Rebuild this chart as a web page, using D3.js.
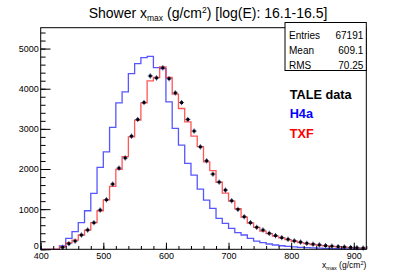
<!DOCTYPE html>
<html>
<head>
<meta charset="utf-8">
<script src="https://cdn.jsdelivr.net/npm/d3@7"></script>
<style>
body{margin:0;background:#fff;}
svg{font-family:"Liberation Sans",Arial,Helvetica,sans-serif;}
</style>
</head>
<body>
<div class="chart_xmax"></div>
<script>
// bin lower edges (g/cm2), 10 g/cm2 wide
var binLo = [400,410,420,430,440,450,460,470,480,490,
             500,510,520,530,540,550,560,570,580,590,
             600,610,620,630,640,650,660,670,680,690,
             700,710,720,730,740,750,760,770,780,790,
             800,810,820,830,840,850,860,870,880,890,
             900,910];
var binHi = 920;

var h4a = [0,0,0,82,273,438,662,960,1393,2040,
           2428,3035,3647,3920,4378,4627,4776,4808,4527,4502,
           3672,3010,2594,2139,1848,1500,1226,1020,771,647,
           522,413,356,274,206,164,132,107,88,72,
           60,50,42,34,28,23,19,15,12,10,
           8,6];

var txf = [0,0,0,60,160,231,356,480,662,960,
           1230,1565,1990,2310,2801,3216,3647,4194,4279,4543,
           4279,3863,3507,3174,2820,2560,2180,1960,1670,1400,
           1200,1010,800,655,545,455,390,330,285,240,
           200,165,140,120,100,85,72,62,52,44,
           36,30];

var tale = [0,0,0,50,140,205,356,480,662,978,
            1234,1624,2022,2275,2818,3234,3657,4318,4269,4520,
            4250,3896,3655,3234,2945,2552,2204,1873,1674,1475,
            1209,995,811,662,547,480,398,340,290,250,
            210,180,150,128,110,92,78,66,56,47,
            39,31];

var xTicks = [400,500,600,700,800,900];
var yTicks = [0,1000,2000,3000,4000,5000];
var statRows = [["Entries","67191"],["Mean","609.1"],["RMS","70.25"]];
var legendRows = [["TALE data","#000000"],["H4a","#0000ff"],["TXF","#ff0000"]];

function drawChart(_cls){
  var cls = _cls || '.chart_xmax';
  var W = 407, H = 277;
  var margin = {top:27.7, right:40.7, bottom:27.7, left:40.7}
    , width = W - margin.left - margin.right
    , height = H - margin.top - margin.bottom;

  d3.select(cls).selectAll("*").remove();

  var xScale = d3.scaleLinear().domain([400, binHi]).range([0, width]);
  var yScale = d3.scaleLinear().domain([0, 5520]).range([height, 0]);

  var root = d3.select(cls).append("svg")
    .attr("width", W)
    .attr("height", H);

  // title
  var title = root.append("text")
    .attr("x", 208)
    .attr("y", 18)
    .attr("text-anchor", "middle")
    .attr("font-size", 14)
    .attr("fill", "#000");
  title.append("tspan").text("Shower x");
  title.append("tspan").attr("font-size", 8.5).attr("dy", 3).text("max");
  title.append("tspan").attr("dy", -3).text(" (g/cm");
  title.append("tspan").attr("font-size", 8.5).attr("dy", -5).text("2");
  title.append("tspan").attr("dy", 5).text(") [log(E): 16.1-16.5]");

  var svg = root.append("g")
    .attr("transform", "translate(" + margin.left + "," + margin.top + ")");

  // histogram outlines
  function steps(vals){
    var pts = binLo.map(function(d, i){ return [d, vals[i]]; });
    pts.push([binHi, vals[vals.length - 1]]);
    return pts;
  }
  var line = d3.line()
    .x(function(d){ return xScale(d[0]); })
    .y(function(d){ return yScale(d[1]); })
    .curve(d3.curveStepAfter);

  svg.append("path")
    .datum(steps(h4a))
    .attr("fill", "none")
    .attr("stroke", "#3838ff")
    .attr("stroke-opacity", 0.85)
    .attr("stroke-width", 1.3)
    .attr("d", line);

  svg.append("path")
    .datum(steps(txf))
    .attr("fill", "none")
    .attr("stroke", "#ff3838")
    .attr("stroke-opacity", 0.85)
    .attr("stroke-width", 1.3)
    .attr("d", line);

  // data points with errors
  var pts = binLo.map(function(d, i){ return {lo:d, y:tale[i]}; })
    .filter(function(d){ return d.y > 0; });

  var g = svg.selectAll(".pt")
    .data(pts)
    .enter().append("g")
    .attr("class", "pt");

  g.append("line")
    .attr("x1", function(d){ return xScale(d.lo) + 0.6; })
    .attr("x2", function(d){ return xScale(d.lo + 10) - 0.6; })
    .attr("y1", function(d){ return yScale(d.y); })
    .attr("y2", function(d){ return yScale(d.y); })
    .attr("stroke", "#34408a")
    .attr("stroke-width", 1);

  g.append("line")
    .attr("x1", function(d){ return xScale(d.lo + 5); })
    .attr("x2", function(d){ return xScale(d.lo + 5); })
    .attr("y1", function(d){ return yScale(d.y) - Math.max(2.6, yScale(0) - yScale(Math.sqrt(d.y))); })
    .attr("y2", function(d){ return yScale(d.y) + Math.max(2.6, yScale(0) - yScale(Math.sqrt(d.y))); })
    .attr("stroke", "#34408a")
    .attr("stroke-width", 1);

  g.append("rect")
    .attr("x", function(d){ return xScale(d.lo + 5) - 1.4; })
    .attr("y", function(d){ return yScale(d.y) - 1.4; })
    .attr("width", 2.8)
    .attr("height", 2.8)
    .attr("fill", "#000");

  // axes
  var xAxis = svg.append("g")
    .attr("class", "x axis")
    .attr("transform", "translate(0," + height + ")")
    .call(d3.axisBottom(xScale).tickValues(xTicks).tickSize(-6.6).tickPadding(3.5).tickFormat(d3.format("d")));
  svg.append("g")
    .attr("transform", "translate(0," + height + ")")
    .call(d3.axisBottom(xScale).tickValues(d3.range(400, binHi + 1, 20)).tickSize(-3.3).tickFormat(""));

  var yAxis = svg.append("g")
    .attr("class", "y axis")
    .call(d3.axisLeft(yScale).tickValues(yTicks).tickSize(-9.8).tickPadding(2).tickFormat(d3.format("d")));
  svg.append("g")
    .call(d3.axisLeft(yScale).tickValues(d3.range(0, 5520, 200)).tickSize(-4.9).tickFormat(""));

  // the "0" sits just above the "400" label, as in the original
  yAxis.selectAll(".tick text")
    .filter(function(d){ return d === 0; })
    .attr("dy", "-0.05em");

  svg.selectAll(".domain").remove();
  svg.selectAll(".tick line").attr("stroke", "#000").attr("stroke-width", 1);
  svg.selectAll(".tick text")
    .attr("font-size", 9)
    .attr("font-family", "'Liberation Sans',Arial,sans-serif")
    .attr("fill", "#000");

  // frame
  svg.append("rect")
    .attr("x", 0).attr("y", 0)
    .attr("width", width).attr("height", height)
    .attr("fill", "none")
    .attr("stroke", "#000")
    .attr("stroke-width", 1);

  // axis title
  var xt = svg.append("text")
    .attr("x", width)
    .attr("y", height + 19)
    .attr("text-anchor", "end")
    .attr("font-size", 8.5)
    .attr("fill", "#000");
  xt.append("tspan").text("x");
  xt.append("tspan").attr("font-size", 5.5).attr("dy", 2).text("max");
  xt.append("tspan").attr("dy", -2).text(" (g/cm");
  xt.append("tspan").attr("font-size", 5.5).attr("dy", -3.5).text("2");
  xt.append("tspan").attr("dy", 3.5).text(")");

  // legend text
  svg.selectAll(".leg")
    .data(legendRows)
    .enter().append("text")
    .attr("class", "leg")
    .attr("x", 249)
    .attr("y", function(d, i){ return 71 + i * 19.5; })
    .attr("font-size", 12.7)
    .attr("font-weight", "bold")
    .attr("fill", function(d){ return d[1]; })
    .text(function(d){ return d[0]; });

  // stats box
  var box = root.append("g").attr("transform", "translate(285,22.5)");
  box.append("rect")
    .attr("width", 366.3 - 285)
    .attr("height", 48)
    .attr("fill", "#fff")
    .attr("stroke", "#000")
    .attr("stroke-width", 1);
  box.selectAll(".sl")
    .data(statRows)
    .enter().append("text")
    .attr("x", 4)
    .attr("y", function(d, i){ return 16 + i * 15; })
    .attr("font-size", 10)
    .text(function(d){ return d[0]; });
  box.selectAll(".sv")
    .data(statRows)
    .enter().append("text")
    .attr("x", 366.3 - 285 - 3)
    .attr("y", function(d, i){ return 16 + i * 15; })
    .attr("text-anchor", "end")
    .attr("font-size", 10)
    .text(function(d){ return d[1]; });
}

drawChart('.chart_xmax');
</script>
</body>
</html>
